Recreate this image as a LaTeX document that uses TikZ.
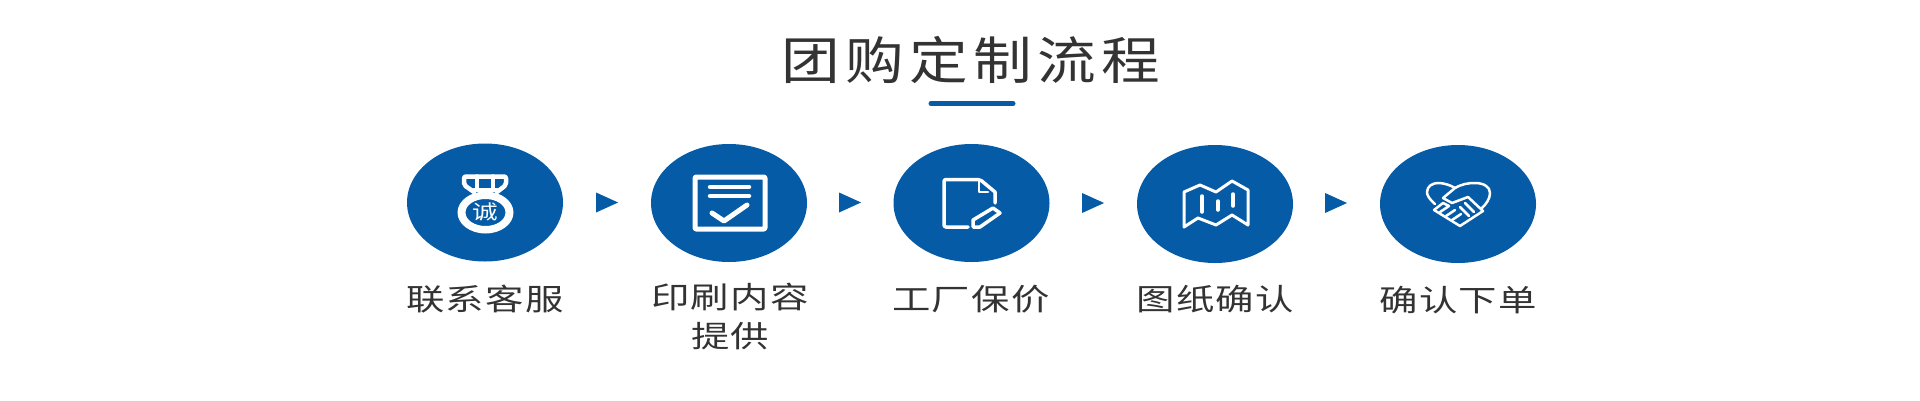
\documentclass[tikz,border=0pt]{standalone}
\usepackage{fontspec}
\usetikzlibrary{shapes.geometric}
\newfontfamily\titlefont[FakeStretch=1.15,LetterSpace=10.5]{Noto Sans CJK SC}
\newfontfamily\labelfont[FakeStretch=1.28,LetterSpace=4]{Noto Sans CJK SC}
\newfontfamily\sealfont[FakeStretch=1.28]{Noto Sans CJK SC}
\definecolor{flowblue}{HTML}{055BA5}
\definecolor{flowtext}{HTML}{333333}
\tikzset{
  stepdisc/.style={ellipse,fill=flowblue,inner sep=0pt,minimum width=156pt,minimum height=118pt},
  stepmark/.style={isosceles triangle,isosceles triangle stretches,fill=flowblue,inner sep=0pt,minimum width=20pt,minimum height=22pt},
  steplabel/.style={text=flowtext,inner sep=0pt,align=center,font=\labelfont\fontsize{30}{35}\selectfont},
  iconline/.style={draw=white,line width=#1,line cap=round,line join=round},
  iconline/.default=3pt
}
\begin{document}
\begin{tikzpicture}[x=1pt,y=-1pt]
  \useasboundingbox (0,0) rectangle (1920,400);
  \node[text=flowtext,inner sep=0pt,font=\titlefont\fontsize{51}{51}\selectfont] (title) at (970.5,60) {团购定制流程};
  \draw[flowblue,line width=5pt,line cap=round] (931,103.5) -- (1013,103.5);
  % steps
  \node[stepdisc] (contact) at (485,202.5) {};
  \node[stepdisc] (print) at (729,203) {};
  \node[stepdisc] (quote) at (971.5,203) {};
  \node[stepdisc] (drawing) at (1215,204) {};
  \node[stepdisc] (order) at (1458,204) {};
  \node[stepmark] (mark1) at (602.5,202.5) {};
  \node[stepmark] (mark2) at (845.5,202.5) {};
  \node[stepmark] (mark3) at (1088.5,203) {};
  \node[stepmark] (mark4) at (1331.5,203) {};
  \node[steplabel] (contactlabel) at (485,299.5) {联系客服};
  \node[steplabel,anchor=north] (printlabel) at (730,283) {印刷内容\\[4pt]提供};
  \node[steplabel] (quotelabel) at (971,299.5) {工厂保价};
  \node[steplabel] (drawinglabel) at (1215,299.5) {图纸确认};
  \node[steplabel] (orderlabel) at (1458,300) {确认下单};
  % bag
  \fill[white,even odd rule] (485.5,212.5) ellipse (28 and 21) (485.5,212.5) ellipse (20 and 13.5);
  \draw[iconline=4.5pt,rounded corners=2pt] (474,192) -- (464,185) -- (464,176.5) -- (506,176.5) -- (506,185) -- (497,192);
  \draw[iconline=3.5pt] (474,190) -- (497,190);
  \draw[iconline=3.5pt] (477,176) -- (477,190);
  \draw[iconline=3.5pt] (493,176) -- (493,190);
  \node[text=white,inner sep=0pt,font=\sealfont\fontsize{20}{20}\selectfont] (seal) at (485.5,212) {诚};
  % form
  \draw[iconline=5pt,rounded corners=1pt] (695,177) rectangle (765,229);
  \draw[iconline=4.5pt] (710,187) -- (749,187);
  \draw[iconline=4.5pt] (710,196) -- (749,196);
  \draw[iconline=5pt] (712,213) -- (724,221) -- (747,205);
  % document
  \draw[iconline=3.5pt] (968,227) -- (946,227) [rounded corners=2pt] -- (944,227) -- (944,179.5) -- (980,179.5) [sharp corners] -- (995,192) -- (995,203);
  \draw[iconline=2.5pt] (979,181) -- (979,192) -- (988,192);
  \draw[iconline=3.5pt] (993,208) -- (1000,213) -- (980,227) -- (973,227) -- (973,220) -- cycle;
  % map
  \draw[iconline=3pt] (1184,192) -- (1200,185) -- (1216,192) -- (1232,181) -- (1248,190) -- (1248,225) -- (1232,215) -- (1216,225) -- (1198,218) -- (1184,227) -- cycle;
  \draw[iconline=3.5pt] (1202,196) -- (1202,212);
  \draw[iconline=3.5pt] (1218,201) -- (1218,210);
  \draw[iconline=3.5pt] (1233,194) -- (1233,206);
  % handshake
  \draw[iconline=2.5pt] (1435,204) .. controls (1429,199) and (1427,195) .. (1427,192) .. controls (1427,186) and (1433,183) .. (1438,183) .. controls (1444,183) and (1450,185) .. (1455,188);
  \draw[iconline=2.5pt] (1443,198) -- (1455,188) .. controls (1462,184) and (1468,183) .. (1475,183) .. controls (1484,183) and (1490,187) .. (1490,193) .. controls (1490,199) and (1486,204) .. (1482,208);
  \draw[iconline=2.5pt] (1443,198) -- (1452,203) -- (1468,197) -- (1483,211) -- (1460,226) -- (1434,210) -- (1443,203) -- (1449,206);
  \draw[iconline=2.5pt] (1440,212) -- (1449,206);
  \draw[iconline=2.5pt] (1446,216) -- (1455,210);
  \draw[iconline=2.5pt] (1452,220) -- (1461,214);
  \draw[iconline=2.5pt] (1465,203) -- (1474,212);
  \draw[iconline=2.5pt] (1460,207) -- (1469,216);
\end{tikzpicture}
\end{document}
